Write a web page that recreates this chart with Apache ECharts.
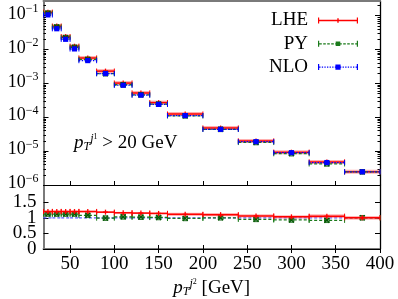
<!DOCTYPE html>
<html><head><meta charset="utf-8">
<script src="https://cdn.jsdelivr.net/npm/echarts@6/dist/echarts.min.js"></script>
<style>html,body{margin:0;padding:0;background:#fff}#c{width:398px;height:299px}</style>
</head><body><div id="c"></div>
<script>
// ---- data ----
const binLow  = [20, 30, 40, 50, 60, 80, 100, 120, 140, 160, 200, 240, 280, 320, 360];
const binHigh = [30, 40, 50, 60, 80, 100, 120, 140, 160, 200, 240, 280, 320, 360, 400];
const nloVals = [0.105, 0.041, 0.0200, 0.0104, 0.0047, 0.00195, 0.00088, 0.00045, 0.00024, 0.000112, 4.4e-5, 1.9e-5, 9.0e-6, 4.6e-6, 2.45e-6];
const lheVals = [0.126, 0.049, 0.024, 0.0125, 0.0056, 0.0023, 0.00102, 0.00052, 0.00027, 0.000124, 4.8e-5, 2.0e-5, 9.3e-6, 4.8e-6, 2.45e-6];
const pyVals  = [0.118, 0.046, 0.0224, 0.0116, 0.0051, 0.00193, 0.00091, 0.00046, 0.000245, 0.00011, 4.4e-5, 1.8e-5, 8.4e-6, 4.2e-6, 2.45e-6];
const lheRatio = [1.20, 1.20, 1.20, 1.20, 1.20, 1.18, 1.16, 1.15, 1.14, 1.11, 1.10, 1.06, 1.03, 1.05, 1.00];
const pyRatio  = [1.12, 1.12, 1.12, 1.12, 1.08, 0.99, 1.03, 1.02, 1.01, 0.98, 1.00, 0.95, 0.93, 0.92, 1.00];
const nloRatio = [1, 1, 1, 1, 1, 1, 1, 1, 1, 1, 1, 1, 1, 1, 1];
const lheRatioErr = [0.03, 0.03, 0.03, 0.03, 0.03, 0.03, 0.03, 0.03, 0.03, 0.05, 0.05, 0.05, 0.05, 0.06, 0.06];
const xTicks = [50, 100, 150, 200, 250, 300, 350, 400];
const logMajor = [1e-6, 1e-5, 1e-4, 1e-3, 1e-2, 1e-1];
const logMinor = [];
logMajor.forEach(d => { for (let k = 2; k <= 9; k++) { const v = d * k; if (v < 0.27) logMinor.push(v); } });
const ratioTicks = [0, 0.5, 1, 1.5];
const ratioLabelsA = [0, 1];
const ratioLabelsB = [0.5, 1.5];
const annotation = '{i|p}{sb|T}{sp|j}{sp2|1}{n| > 20 GeV}';

const SERIF = 'Liberation Serif';
const RED = '#ff0000', GREEN = '#1a7a1a', GMARK = '#005800', BLUE = '#0000ff';

function rows(lo, hi, v, e) { return lo.map((l, i) => [l, hi[i], v[i], e ? e[i] : 0]); }

function render(kind, panel) {
  return function (params, api) {
    const lo = api.value(0), hi = api.value(1), v = api.value(2), e = api.value(3);
    const a = api.coord([lo, v]), b = api.coord([hi, v]), c = api.coord([(lo + hi) / 2, v]);
    const ch = 2.6;
    const kids = [];
    let stroke, dash = null, lw = 1.3;
    if (kind === 'LHE') { stroke = RED; lw = 1.5; }
    else if (kind === 'PY') { stroke = GREEN; dash = [3, 2]; }
    else { stroke = panel === 'ratio' ? '#5a5aff' : BLUE; dash = panel === 'ratio' ? [3, 2] : [1.4, 1.4]; lw = 1.2; }
    if (kind === 'LHE') {
      if (panel === 'ratio') {
        const t = api.coord([lo, v + e]), u = api.coord([hi, v - e]);
        kids.push({ type: 'rect', shape: { x: t[0], y: t[1], width: u[0] - t[0], height: u[1] - t[1] }, style: { fill: 'rgba(255,90,90,0.45)' } });
      } else {
        kids.push({ type: 'line', shape: { x1: a[0], y1: a[1], x2: b[0], y2: b[1] }, style: { stroke: 'rgba(255,110,110,0.55)', lineWidth: 4 } });
      }
    }
    kids.push({ type: 'line', shape: { x1: a[0], y1: a[1], x2: b[0], y2: b[1] }, style: { stroke: stroke, lineWidth: lw, lineDash: dash } });
    if (!(kind === 'NLO' && panel === 'ratio')) {
      kids.push({ type: 'line', shape: { x1: a[0], y1: a[1] - ch, x2: a[0], y2: a[1] + ch }, style: { stroke: stroke, lineWidth: 1 } });
      kids.push({ type: 'line', shape: { x1: b[0], y1: b[1] - ch, x2: b[0], y2: b[1] + ch }, style: { stroke: stroke, lineWidth: 1 } });
    }
    if (kind === 'LHE') {
      kids.push({ type: 'line', shape: { x1: c[0], y1: c[1] - 2.5, x2: c[0], y2: c[1] + 2.5 }, style: { stroke: RED, lineWidth: 1.3 } });
      kids.push({ type: 'line', shape: { x1: c[0] - 2.5, y1: c[1], x2: c[0] + 2.5, y2: c[1] }, style: { stroke: RED, lineWidth: 1.3 } });
    } else if (kind === 'PY') {
      kids.push({ type: 'rect', shape: { x: c[0] - 2.3, y: c[1] - 2.3, width: 4.6, height: 4.6 }, style: { fill: 'rgba(0,90,0,0.35)', stroke: GMARK, lineWidth: 0.8 } });
      kids.push({ type: 'line', shape: { x1: c[0] - 2.5, y1: c[1] - 2.5, x2: c[0] + 2.5, y2: c[1] + 2.5 }, style: { stroke: GMARK, lineWidth: 1.2 } });
      kids.push({ type: 'line', shape: { x1: c[0] - 2.5, y1: c[1] + 2.5, x2: c[0] + 2.5, y2: c[1] - 2.5 }, style: { stroke: GMARK, lineWidth: 1.2 } });
    } else if (panel !== 'ratio') {
      kids.push({ type: 'rect', shape: { x: c[0] - 2.6, y: c[1] - 2.6, width: 5.2, height: 5.2 }, style: { fill: BLUE } });
    }
    return { type: 'group', children: kids };
  };
}

function iconPath(kind) {
  let p = 'path://M0,0h1.2v6h-1.2z M38.8,0h1.2v6h-1.2z ';
  if (kind === 'LHE') {
    p += 'M0,2.3h40v1.4h-40z M19.3,0.8h1.4v4.4h-1.4z';
  } else if (kind === 'PY') {
    for (let x = 1.2; x < 38.8; x += 4) p += 'M' + x + ',2.4h2.6v1.2h-2.6z ';
    p += 'M17.7,0.7h4.6v4.6h-4.6z';
  } else {
    for (let x = 1.2; x < 38.8; x += 2.6) p += 'M' + x + ',2.4h1.3v1.2h-1.3z ';
    p += 'M17.4,0.4h5.2v5.2h-5.2z';
  }
  return p;
}

const richMath = {
  i: { fontFamily: SERIF, fontStyle: 'italic', fontWeight: 'normal', fontSize: 19, color: '#000' },
  sb: { fontFamily: SERIF, fontStyle: 'italic', fontWeight: 'normal', fontSize: 12, color: '#000', verticalAlign: 'bottom', padding: [6, 0, 0, 0] },
  sp: { fontFamily: SERIF, fontStyle: 'italic', fontWeight: 'normal', fontSize: 12, color: '#000', verticalAlign: 'top', padding: [0, 0, 8, 0] },
  sp2: { fontFamily: SERIF, fontWeight: 'normal', fontSize: 8, color: '#000', verticalAlign: 'top', padding: [0, 0, 4, 0] },
  n: { fontFamily: SERIF, fontWeight: 'normal', fontSize: 19, color: '#000' }
};
const common = { fontFamily: SERIF, color: '#000' };
const yLabelFmt = v => { const e = Math.round(Math.log10(v)); return '{b|10}{s|−' + (-e) + '}'; };

function ratioLabelAxis(vals) {
  return { gridIndex: 1, type: 'value', min: 0, max: 2.05, position: 'left',
    axisLine: { show: false }, axisTick: { show: false },
    axisLabel: Object.assign({ fontSize: 19, margin: 7, customValues: vals, hideOverlap: false, showMinLabel: true, showMaxLabel: true }, common),
    splitLine: { show: false } };
}

const option = {
  animation: false,
  backgroundColor: '#fff',
  grid: [
    { left: 43.5, right: 18, top: 1, height: 184 },
    { left: 43.5, right: 18, top: 185, height: 67 }
  ],
  title: {
    text: annotation, left: 69, top: 128,
    textStyle: { fontWeight: 'normal', rich: richMath }
  },
  legend: {
    orient: 'vertical', align: 'right', right: 35, top: 6,
    itemWidth: 40, itemHeight: 6, itemGap: 4.3,
    textStyle: { fontFamily: SERIF, fontSize: 19, lineHeight: 19, color: '#000', padding: [0, 5, 0, 0] },
    data: [
      { name: 'LHE', icon: iconPath('LHE'), itemStyle: { color: RED } },
      { name: 'PY', icon: iconPath('PY'), itemStyle: { color: GREEN } },
      { name: 'NLO', icon: iconPath('NLO'), itemStyle: { color: BLUE } }
    ]
  },
  xAxis: [
    { gridIndex: 0, type: 'value', min: 20, max: 400, position: 'bottom',
      axisLine: { lineStyle: { color: '#000', width: 1 } },
      axisTick: { inside: true, length: 4, customValues: xTicks, lineStyle: { color: '#000' } },
      axisLabel: { show: false }, splitLine: { show: false } },
    { gridIndex: 0, type: 'value', min: 20, max: 400, position: 'top',
      axisLine: { lineStyle: { color: '#7a7a7a', width: 2 } },
      axisTick: { show: false }, axisLabel: { show: false }, splitLine: { show: false } },
    { gridIndex: 1, type: 'value', min: 20, max: 400, position: 'bottom',
      name: '{i|p}{sb|T}{sp|j}{sp2|2}{n| [GeV]}', nameLocation: 'middle', nameGap: 29,
      nameTextStyle: { rich: richMath },
      axisLine: { lineStyle: { color: '#7a7a7a', width: 2 } },
      axisTick: { inside: true, length: 4, customValues: xTicks, lineStyle: { color: '#000' } },
      axisLabel: Object.assign({ fontSize: 19, margin: 6, customValues: xTicks, hideOverlap: false, showMinLabel: true, showMaxLabel: true }, common),
      splitLine: { show: false } },
    { gridIndex: 1, type: 'value', min: 20, max: 400, position: 'top',
      axisLine: { lineStyle: { color: '#000', width: 1 } },
      axisTick: { inside: true, length: 4, customValues: xTicks, lineStyle: { color: '#000' } },
      axisLabel: { show: false }, splitLine: { show: false } }
  ],
  yAxis: [
    { gridIndex: 0, type: 'log', min: 1e-6, max: 0.27, position: 'left',
      axisLine: { show: true, lineStyle: { color: '#7a7a7a', width: 2 } },
      axisTick: { inside: true, length: 5, customValues: logMajor, lineStyle: { color: '#000' } },
      axisLabel: Object.assign({ customValues: logMajor, margin: 5, formatter: yLabelFmt, padding: [0, 0, 5, 0], hideOverlap: false, showMinLabel: true, showMaxLabel: true,
        rich: { b: { fontFamily: SERIF, fontSize: 18, color: '#000', verticalAlign: 'bottom' },
                s: { fontFamily: SERIF, fontSize: 12, color: '#000', verticalAlign: 'bottom', padding: [0, 0, 8, 0] } } }, common),
      splitLine: { show: false } },
    { gridIndex: 0, type: 'log', min: 1e-6, max: 0.27, position: 'left',
      axisLine: { show: false },
      axisTick: { inside: true, length: 2.5, customValues: logMinor, lineStyle: { color: '#000' } },
      axisLabel: { show: false }, splitLine: { show: false } },
    { gridIndex: 0, type: 'log', min: 1e-6, max: 0.27, position: 'right',
      axisLine: { show: true, lineStyle: { color: '#000', width: 1.3 } },
      axisTick: { inside: true, length: 5, customValues: logMajor, lineStyle: { color: '#000' } },
      axisLabel: { show: false }, splitLine: { show: false } },
    { gridIndex: 0, type: 'log', min: 1e-6, max: 0.27, position: 'right',
      axisLine: { show: false },
      axisTick: { inside: true, length: 2.5, customValues: logMinor, lineStyle: { color: '#000' } },
      axisLabel: { show: false }, splitLine: { show: false } },
    { gridIndex: 1, type: 'value', min: 0, max: 2.05, position: 'left',
      axisLine: { show: true, lineStyle: { color: '#7a7a7a', width: 2 } },
      axisTick: { inside: true, length: 5, customValues: ratioTicks, lineStyle: { color: '#000' } },
      axisLabel: { show: false },
      splitLine: { show: false } },
    { gridIndex: 1, type: 'value', min: 0, max: 2.05, position: 'right',
      axisLine: { show: true, lineStyle: { color: '#000', width: 1.3 } },
      axisTick: { inside: true, length: 5, customValues: ratioTicks, lineStyle: { color: '#000' } },
      axisLabel: { show: false }, splitLine: { show: false } },
    ratioLabelAxis(ratioLabelsA),
    ratioLabelAxis(ratioLabelsB)
  ],
  series: [
    { name: 'LHE', type: 'custom', xAxisIndex: 0, yAxisIndex: 0, itemStyle: { color: RED }, encode: { x: [0, 1], y: 2 }, renderItem: render('LHE', 'top'), data: rows(binLow, binHigh, lheVals) },
    { name: 'PY', type: 'custom', xAxisIndex: 0, yAxisIndex: 0, itemStyle: { color: GREEN }, encode: { x: [0, 1], y: 2 }, renderItem: render('PY', 'top'), data: rows(binLow, binHigh, pyVals) },
    { name: 'NLO', type: 'custom', xAxisIndex: 0, yAxisIndex: 0, itemStyle: { color: BLUE }, encode: { x: [0, 1], y: 2 }, renderItem: render('NLO', 'top'), data: rows(binLow, binHigh, nloVals) },
    { name: 'NLO', type: 'custom', xAxisIndex: 2, yAxisIndex: 4, itemStyle: { color: BLUE }, encode: { x: [0, 1], y: 2 }, renderItem: render('NLO', 'ratio'), data: rows(binLow, binHigh, nloRatio) },
    { name: 'PY', type: 'custom', xAxisIndex: 2, yAxisIndex: 4, itemStyle: { color: GREEN }, encode: { x: [0, 1], y: 2 }, renderItem: render('PY', 'ratio'), data: rows(binLow, binHigh, pyRatio) },
    { name: 'LHE', type: 'custom', xAxisIndex: 2, yAxisIndex: 4, itemStyle: { color: RED }, encode: { x: [0, 1], y: 2 }, renderItem: render('LHE', 'ratio'), data: rows(binLow, binHigh, lheRatio, lheRatioErr) }
  ]
};
const chart = echarts.init(document.getElementById('c'), null, { renderer: 'canvas' });
chart.setOption(option);
</script></body></html>
